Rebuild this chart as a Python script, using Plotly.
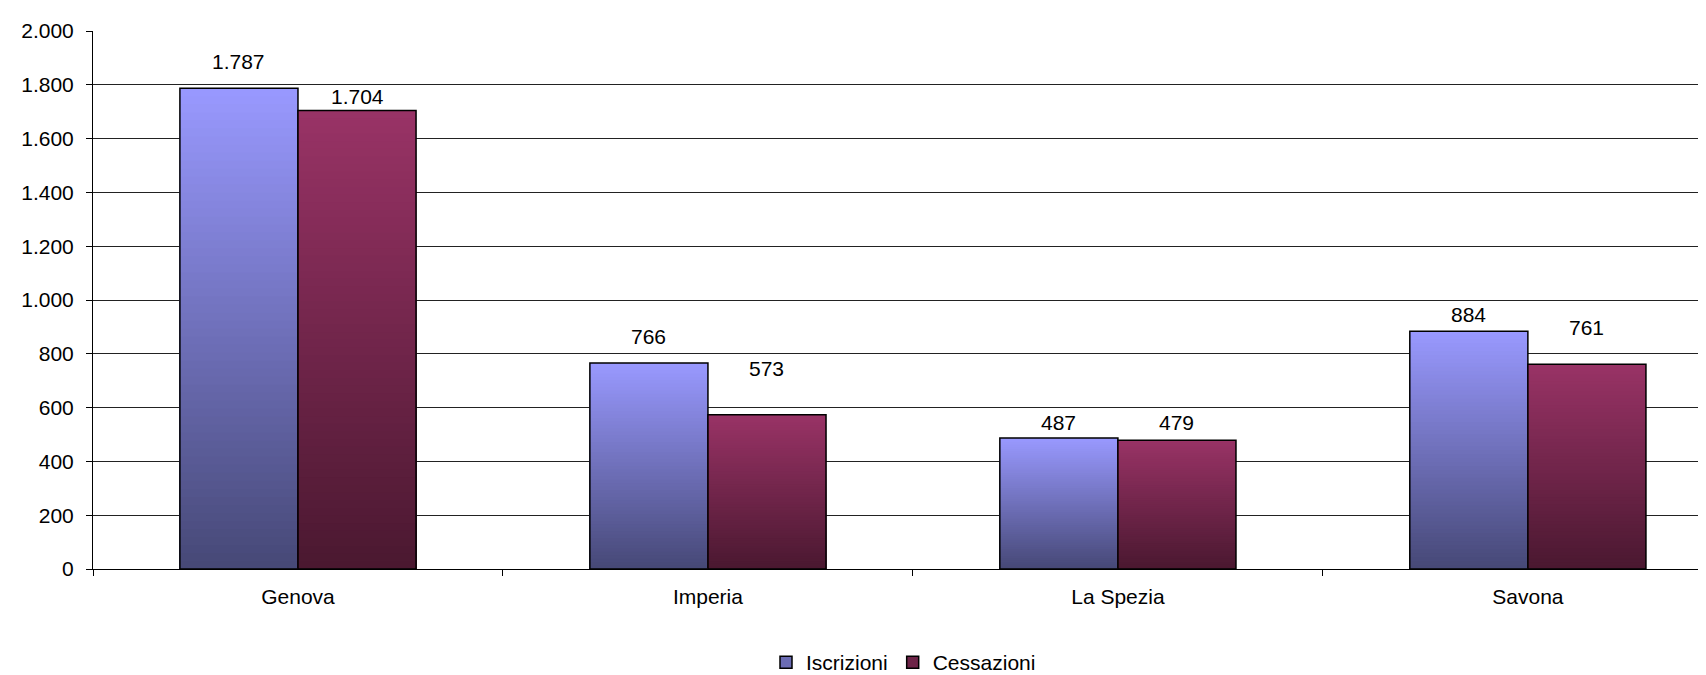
import plotly.graph_objects as go

# ---- data ----
categories = ["Genova", "Imperia", "La Spezia", "Savona"]
series_names = ["Iscrizioni", "Cessazioni"]
iscrizioni = [1787, 766, 487, 884]
cessazioni = [1704, 573, 479, 761]
y_ticks = [0, 200, 400, 600, 800, 1000, 1200, 1400, 1600, 1800, 2000]

# ---- styling ----
grad_top = [(153, 153, 255), (153, 51, 102)]
grad_bottom = [(70, 72, 118), (74, 24, 48)]
label_shift_px = [[27, 26, 16, 17], [14, 46, 18, 37]]
N_STEPS = 60
BARGAP = 0.424
FONT = "Liberation Sans, Arial, sans-serif"
FS = 21


def mix(c0, c1, t):
    return "rgb(%d,%d,%d)" % tuple(round(a + (b - a) * t) for a, b in zip(c0, c1))


fig = go.Figure()
all_vals = [iscrizioni, cessazioni]

for s, (name, vals) in enumerate(zip(series_names, all_vals)):
    grp = str(s)
    # gradient: nested bars, tallest (lightest top band) drawn first
    for k in range(N_STEPS - 1, -1, -1):
        frac = (k + 1) / N_STEPS
        t = (k + 0.5) / N_STEPS
        fig.add_trace(go.Bar(
            x=categories, y=[v * frac for v in vals], offsetgroup=grp,
            marker=dict(color=mix(grad_bottom[s], grad_top[s], t), line=dict(width=0)),
            showlegend=False, hoverinfo="skip",
        ))
    # outline / actual data bar
    fig.add_trace(go.Bar(
        x=categories, y=vals, offsetgroup=grp, name=name,
        marker=dict(color="rgba(0,0,0,0)", line=dict(color="black", width=1.5)),
        showlegend=False,
    ))
    # legend entry
    fig.add_trace(go.Bar(
        x=[None], y=[None], offsetgroup=grp, name=name,
        marker=dict(color=mix(grad_bottom[s], grad_top[s], 0.45),
                    line=dict(color="black", width=1.5)),
        showlegend=True,
    ))

# value labels
half = (1 - BARGAP) / 4
for s, vals in enumerate(all_vals):
    for i, v in enumerate(vals):
        fig.add_annotation(
            x=i + (-half if s == 0 else half), y=v, xref="x", yref="y",
            text=f"{v:,}".replace(",", "."), showarrow=False,
            yanchor="middle", yshift=label_shift_px[s][i],
            font=dict(family=FONT, size=FS, color="black"),
        )

fig.update_layout(
    width=1706, height=675,
    barmode="group", bargap=BARGAP, bargroupgap=0,
    separators=",.",
    paper_bgcolor="white", plot_bgcolor="white",
    margin=dict(l=85, r=0, t=23, b=107),
    font=dict(family=FONT, size=FS, color="black"),
    legend=dict(orientation="h", x=0.5, xanchor="center", y=-0.174, yanchor="middle",
                font=dict(size=FS), itemwidth=30, tracegroupgap=0),
)
fig.update_xaxes(
    range=[-0.5, 3.454], type="category",
    showline=True, linecolor="black", linewidth=1,
    ticks="outside", tickson="boundaries", ticklen=6, tickcolor="black",
    ticklabelstandoff=9, showgrid=False,
)
fig.update_yaxes(
    range=[0, 2000], tickvals=y_ticks, tickformat=",d",
    showline=True, linecolor="black", linewidth=1,
    ticks="outside", ticklen=6, tickcolor="black", ticklabelstandoff=8,
    showgrid=True, gridcolor="#222222", gridwidth=1,
    zeroline=False,
)

fig.write_html("out.html")
